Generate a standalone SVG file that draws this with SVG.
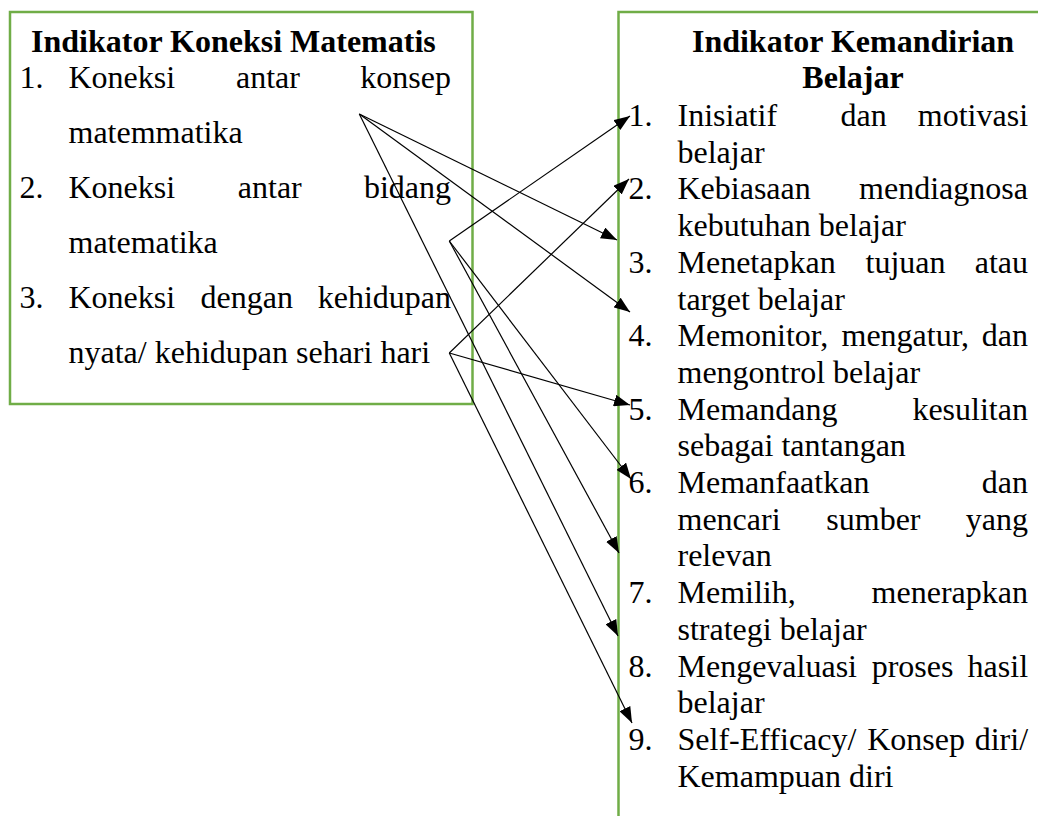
<svg xmlns="http://www.w3.org/2000/svg" width="1038" height="816" viewBox="0 0 1038 816">
  <style>
    .box { fill: none; stroke: #70AD47; stroke-width: 2.5; }
    .t { font-family: "Liberation Serif", "Times New Roman", serif; font-size: 32px; fill: #000; }
    .b { font-weight: bold; }
    .c { stroke: #000; stroke-width: 1.2; fill: none; marker-end: url(#arrow); }
  </style>
  <defs>
    <marker id="arrow" markerUnits="userSpaceOnUse" markerWidth="16" markerHeight="12" viewBox="0 0 16 12" refX="16" refY="6" orient="auto">
      <path d="M0,0 L16,6 L0,12 z" fill="#000"/>
    </marker>
  </defs>
  <rect x="0" y="0" width="1038" height="816" fill="#fff"/>

  <g id="node-koneksi">
    <rect class="box" x="10" y="12" width="462.5" height="392"/>
    <text class="t b" x="31" y="52">Indikator Koneksi Matematis</text>
    <text class="t" y="88"><tspan x="19.5">1.</tspan><tspan x="68.5">Koneksi</tspan><tspan x="236">antar</tspan><tspan x="360.3">konsep</tspan></text>
    <text class="t" x="68.5" y="143">matemmatika</text>
    <text class="t" y="198"><tspan x="19.5">2.</tspan><tspan x="68.5">Koneksi</tspan><tspan x="237.8">antar</tspan><tspan x="363.9">bidang</tspan></text>
    <text class="t" x="68.5" y="253">matematika</text>
    <text class="t" y="308"><tspan x="19.5">3.</tspan><tspan x="68.5">Koneksi</tspan><tspan x="200.5">dengan</tspan><tspan x="317.7">kehidupan</tspan></text>
    <text class="t" x="68.5" y="363">nyata/ kehidupan sehari hari</text>
  </g>

  <g id="node-kemandirian">
    <path class="box" d="M618.5,830 V12 H1045"/>
    <text class="t b" x="853" y="52" text-anchor="middle">Indikator Kemandirian</text>
    <text class="t b" x="853" y="88" text-anchor="middle">Belajar</text>
    <text class="t" y="126"><tspan x="628.5">1.</tspan><tspan x="677.5">Inisiatif</tspan><tspan x="840.5">dan</tspan><tspan x="917.8">motivasi</tspan></text>
    <text class="t" x="677.5" y="162.7">belajar</text>
    <text class="t" y="199.4"><tspan x="628.5">2.</tspan><tspan x="677.5">Kebiasaan</tspan><tspan x="859.1">mendiagnosa</tspan></text>
    <text class="t" x="677.5" y="236.1">kebutuhan belajar</text>
    <text class="t" y="272.8"><tspan x="628.5">3.</tspan><tspan x="677.5">Menetapkan</tspan><tspan x="865.5">tujuan</tspan><tspan x="974.7">atau</tspan></text>
    <text class="t" x="677.5" y="309.5">target belajar</text>
    <text class="t" y="346.2"><tspan x="628.5">4.</tspan><tspan x="677.5">Memonitor,</tspan><tspan x="841.5">mengatur,</tspan><tspan x="981.8">dan</tspan></text>
    <text class="t" x="677.5" y="382.9">mengontrol belajar</text>
    <text class="t" y="419.6"><tspan x="628.5">5.</tspan><tspan x="677.5">Memandang</tspan><tspan x="912.4">kesulitan</tspan></text>
    <text class="t" x="677.5" y="456.3">sebagai tantangan</text>
    <text class="t" y="493"><tspan x="628.5">6.</tspan><tspan x="677.5">Memanfaatkan</tspan><tspan x="981.8">dan</tspan></text>
    <text class="t" y="529.7"><tspan x="677.5">mencari</tspan><tspan x="826.3">sumber</tspan><tspan x="965.8">yang</tspan></text>
    <text class="t" x="677.5" y="566.4">relevan</text>
    <text class="t" y="603.1"><tspan x="628.5">7.</tspan><tspan x="677.5">Memilih,</tspan><tspan x="871.6">menerapkan</tspan></text>
    <text class="t" x="677.5" y="639.8">strategi belajar</text>
    <text class="t" y="676.5"><tspan x="628.5">8.</tspan><tspan x="677.5">Mengevaluasi</tspan><tspan x="871.7">proses</tspan><tspan x="967.6">hasil</tspan></text>
    <text class="t" x="677.5" y="713.2">belajar</text>
    <text class="t" y="749.9"><tspan x="628.5">9.</tspan><tspan x="677.5">Self-Efficacy/</tspan><tspan x="867.2">Konsep</tspan><tspan x="974.7">diri/</tspan></text>
    <text class="t" x="677.5" y="786.6">Kemampuan diri</text>
  </g>

  <g id="connectors">
    <line class="c" x1="359.3" y1="114" x2="617" y2="240"/>
    <line class="c" x1="359.3" y1="114" x2="630" y2="312"/>
    <line class="c" x1="359.3" y1="114" x2="618" y2="636"/>
    <line class="c" x1="449.3" y1="241" x2="630" y2="116"/>
    <line class="c" x1="449.3" y1="241" x2="631" y2="479"/>
    <line class="c" x1="449.3" y1="241" x2="619" y2="553"/>
    <line class="c" x1="449.3" y1="353" x2="629" y2="179"/>
    <line class="c" x1="449.3" y1="353" x2="630" y2="405"/>
    <line class="c" x1="449.3" y1="353" x2="632" y2="723"/>
  </g>
</svg>
